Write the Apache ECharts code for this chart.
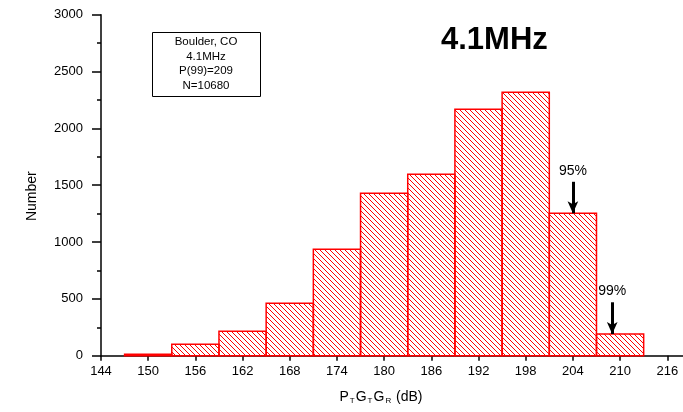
<!DOCTYPE html>
<html><head><meta charset="utf-8">
<script src="https://cdn.jsdelivr.net/npm/echarts@6/dist/echarts.min.js"></script>
<style>html,body{margin:0;padding:0;background:#fff}#c{width:683px;height:412px}</style>
</head><body><div id="c"></div>
<script>
const binCenters = [150, 156, 162, 168, 174, 180, 186, 192, 198, 204, 210];
const counts = [12, 100, 215, 461, 936, 1429, 1596, 2168, 2317, 1253, 191];
const binWidth = 6;
const xTicks = [144, 150, 156, 162, 168, 174, 180, 186, 192, 198, 204, 210, 216];
const yTicks = [0, 500, 1000, 1500, 2000, 2500, 3000];
const arrowLabels = ['95%', '99%'];
const arrowX = [204, 209];
const arrowTop = [1530, 470];
const arrowTip = [1253, 191];
const infoLines = ['Boulder, CO', '4.1MHz', 'P(99)=209', 'N=10680'];
const bigTitle = '4.1MHz';

const FONT = '"Liberation Sans", Arial, sans-serif';

// hatch pattern
const pc = document.createElement('canvas');
const S = 5;
pc.width = S; pc.height = S;
const pctx = pc.getContext('2d');
pctx.strokeStyle = '#ff0000';
pctx.lineWidth = 1;
pctx.beginPath();
pctx.moveTo(-1, -1); pctx.lineTo(S + 1, S + 1);
pctx.moveTo(-1, S - 1); pctx.lineTo(1, S + 1);
pctx.moveTo(S - 1, -1); pctx.lineTo(S + 1, 1);
pctx.stroke();

const chart = echarts.init(document.getElementById('c'), null, {renderer: 'canvas'});
const histData = binCenters.map((c, i) => [c, counts[i]]);
const arrowData = arrowX.map((x, i) => [{coord: [x, arrowTop[i]]}, {coord: [x, arrowTip[i]]}]);

chart.setOption({
  animation: false,
  backgroundColor: '#fff',
  title: [
    {text: bigTitle, left: 436, top: 20, textStyle: {fontFamily: FONT, fontSize: 31, fontWeight: 'bold', color: '#000'}}
  ],
  graphic: [
    {type: 'rect', left: 152, top: 32, z: 10,
     shape: {width: 108, height: 64}, style: {fill: '#fff', stroke: '#000', lineWidth: 1}},
    {type: 'text', x: 206, y: 35, z: 11,
     style: {text: infoLines.join('\n'), align: 'center', verticalAlign: 'top', font: '11.5px ' + FONT,
       fill: '#000', lineHeight: 14.5}}
  ],
  grid: {left: 101, right: 0, top: 14.7, bottom: 56.3, containLabel: false},
  xAxis: {
    type: 'value', min: 144, max: 218, interval: 6,
    axisLine: {show: true, lineStyle: {color: '#000', width: 1.5}},
    axisTick: {show: true, length: 5, lineStyle: {color: '#000', width: 1.5}, inside: false},
    splitLine: {show: false},
    axisLabel: {showMaxLabel: false, margin: 9, fontFamily: FONT, fontSize: 13, color: '#000',
      formatter: v => xTicks.includes(v) ? String(v) : ''},
    name: 'P{s|T}G{s|T}G{s|R} (dB)', nameLocation: 'middle', nameGap: 33,
    nameTextStyle: {fontFamily: FONT, fontSize: 14, color: '#000', padding: [0, 22, 0, 0],
      rich: {s: {fontFamily: FONT, fontSize: 8, color: '#000', verticalAlign: 'bottom', padding: [8, 1, 0, 1]}}}
  },
  yAxis: {
    type: 'value', min: 0, max: 3000, interval: 500,
    axisLine: {show: true, lineStyle: {color: '#000', width: 1.5}},
    axisTick: {show: true, length: 9, lineStyle: {color: '#000', width: 1.5}},
    minorTick: {show: true, splitNumber: 2, length: 4, lineStyle: {color: '#000', width: 1.5}},
    splitLine: {show: false},
    axisLabel: {margin: 18, fontFamily: FONT, fontSize: 13, color: '#000',
      formatter: v => yTicks.includes(v) ? String(v) : ''},
    name: 'Number', nameLocation: 'middle', nameGap: 62,
    nameTextStyle: {fontFamily: FONT, fontSize: 14, color: '#000', padding: [0, 0, 0, -22]}
  },
  series: [{
    type: 'custom',
    data: histData,
    renderItem: function (params, api) {
      const x = api.value(0), y = api.value(1);
      const p1 = api.coord([x - binWidth / 2, y]);
      const p2 = api.coord([x + binWidth / 2, 0]);
      return {
        type: 'rect',
        shape: {x: p1[0], y: p1[1], width: p2[0] - p1[0], height: p2[1] - p1[1]},
        style: {fill: {image: pc, repeat: 'repeat'}, stroke: '#ff0000', lineWidth: 1.5}
      };
    },
    markLine: {
      silent: true, symbol: ['none', 'arrow'], symbolSize: [8, 12],
      lineStyle: {color: '#000', width: 3, type: 'solid'},
      label: {show: true, position: 'start', distance: 4,
        formatter: p => arrowLabels[p.dataIndex],
        fontFamily: FONT, fontSize: 14, color: '#000'},
      data: arrowData
    }
  }]
});
</script></body></html>
